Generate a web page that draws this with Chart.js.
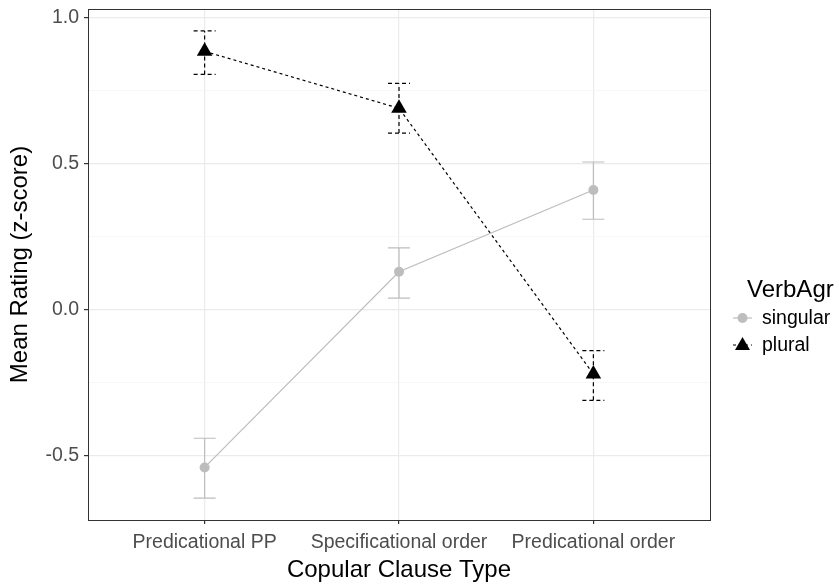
<!DOCTYPE html>
<html>
<head>
<meta charset="utf-8">
<script src="https://cdn.jsdelivr.net/npm/chart.js@4"></script>
<style>
  html, body { margin: 0; padding: 0; background: #fff; }
  #wrap { width: 839px; height: 586px; position: relative; }
</style>
</head>
<body>
<div id="wrap"><canvas id="chart"></canvas></div>
<script>
// categories on the x axis
const categories = ['Predicational PP', 'Specificational order', 'Predicational order'];

// mean ratings
const singularMeans = [-0.54, 0.13, 0.41];
const pluralMeans = [0.885, 0.69, -0.22];

// error bar limits
const singularLow = [-0.645, 0.04, 0.31];
const singularHigh = [-0.44, 0.212, 0.506];
const pluralLow = [0.806, 0.605, -0.31];
const pluralHigh = [0.955, 0.775, -0.14];

const yTicks = [-0.5, -0.25, 0, 0.25, 0.5, 0.75, 1.0];
const yMajor = [-0.5, 0, 0.5, 1.0];

const FONT = '"Liberation Sans", Arial, sans-serif';

function toPoints(vals) {
    return vals.map((v, i) => ({ x: i + 1, y: v }));
}

const errorBars = {
    id: 'errorBars',
    afterDatasetsDraw(chart) {
        const ctx = chart.ctx;
        const xs = chart.scales.x, ys = chart.scales.y;
        const sets = [
            { low: singularLow, high: singularHigh, color: '#bdbdbd', dash: [] },
            { low: pluralLow, high: pluralHigh, color: '#000', dash: [4, 3] }
        ];
        ctx.save();
        sets.forEach(s => {
            ctx.strokeStyle = s.color;
            ctx.lineWidth = 1.2;
            ctx.setLineDash(s.dash);
            s.low.forEach((lo, i) => {
                const px = xs.getPixelForValue(i + 1);
                const y1 = ys.getPixelForValue(lo);
                const y2 = ys.getPixelForValue(s.high[i]);
                ctx.beginPath();
                ctx.moveTo(px, y1); ctx.lineTo(px, y2);
                ctx.moveTo(px - 11, y1); ctx.lineTo(px + 11, y1);
                ctx.moveTo(px - 11, y2); ctx.lineTo(px + 11, y2);
                ctx.stroke();
            });
        });
        ctx.restore();
    }
};

const frame = {
    id: 'frame',
    afterDraw(chart) {
        const { ctx, chartArea: a } = chart;
        ctx.save();
        ctx.strokeStyle = '#333333';
        ctx.lineWidth = 1;
        ctx.strokeRect(a.left + 0.5, a.top + 0.5, a.right - a.left, a.bottom - a.top);

        // legend
        const lx = 733;
        ctx.fillStyle = '#000';
        ctx.font = '24px ' + FONT;
        ctx.textBaseline = 'middle';
        ctx.fillText('VerbAgr', 747, 290);
        ctx.font = '19.5px ' + FONT;
        // singular key
        ctx.strokeStyle = '#bdbdbd';
        ctx.lineWidth = 1.2;
        ctx.beginPath(); ctx.moveTo(lx, 318); ctx.lineTo(lx + 19, 318); ctx.stroke();
        ctx.fillStyle = '#bdbdbd';
        ctx.beginPath(); ctx.arc(lx + 9.5, 318, 5, 0, Math.PI * 2); ctx.fill();
        ctx.fillStyle = '#000';
        ctx.fillText('singular', 762, 319);
        // plural key
        ctx.strokeStyle = '#000';
        ctx.setLineDash([3, 3]);
        ctx.beginPath(); ctx.moveTo(lx, 345); ctx.lineTo(lx + 19, 345); ctx.stroke();
        ctx.setLineDash([]);
        ctx.beginPath();
        ctx.moveTo(lx + 9.5, 337); ctx.lineTo(lx + 17, 350); ctx.lineTo(lx + 2, 350);
        ctx.closePath(); ctx.fill();
        ctx.fillText('plural', 762, 346);
        ctx.restore();
    }
};

new Chart(document.getElementById('chart'), {
    type: 'line',
    data: {
        datasets: [
            {
                label: 'singular',
                data: toPoints(singularMeans),
                borderColor: '#bdbdbd',
                backgroundColor: '#bdbdbd',
                borderWidth: 1.2,
                pointStyle: 'circle',
                pointRadius: 5,
                pointHoverRadius: 5,
                pointBorderWidth: 0
            },
            {
                label: 'plural',
                data: toPoints(pluralMeans),
                borderColor: '#000',
                backgroundColor: '#000',
                borderWidth: 1.2,
                borderDash: [3, 3],
                pointStyle: 'triangle',
                pointRadius: 9,
                pointHoverRadius: 9,
                pointBorderWidth: 0
            }
        ]
    },
    options: {
        responsive: true,
        maintainAspectRatio: false,
        animation: false,
        events: [],
        layout: { padding: { left: 0, right: 129, top: 8, bottom: 0 } },
        plugins: {
            legend: { display: false },
            tooltip: { enabled: false }
        },
        scales: {
            x: {
                type: 'linear',
                min: 0.4,
                max: 3.6,
                afterBuildTicks: (scale) => { scale.ticks = [1, 2, 3].map(v => ({ value: v })); },
                afterFit: (scale) => {
                    scale.height = 66;
                    scale.paddingLeft = 0;
                    scale.paddingRight = 0;
                },
                ticks: {
                    callback: (v) => categories[v - 1] || '',
                    color: '#4d4d4d',
                    font: { size: 19.5, family: FONT },
                    maxRotation: 0,
                    padding: 7
                },
                grid: { color: '#ebebeb', tickColor: '#333333', tickLength: 4, lineWidth: 1.2 },
                border: { display: false },
                title: {
                    display: true,
                    text: 'Copular Clause Type',
                    color: '#000',
                    font: { size: 24, family: FONT },
                    padding: { top: 0, bottom: 1 }
                }
            },
            y: {
                min: -0.72,
                max: 1.03,
                afterBuildTicks: (scale) => { scale.ticks = yTicks.map(v => ({ value: v })); },
                afterFit: (scale) => {
                    scale.width = 88;
                    scale.paddingTop = 0;
                    scale.paddingBottom = 0;
                },
                ticks: {
                    callback: (v) => yMajor.includes(v) ? v.toFixed(1) : '',
                    color: '#4d4d4d',
                    font: { size: 19.5, family: FONT },
                    padding: 5
                },
                grid: {
                    color: (c) => yMajor.includes(c.tick.value) ? '#ebebeb' : '#f5f5f5',
                    tickColor: (c) => yMajor.includes(c.tick.value) ? '#333333' : 'rgba(0,0,0,0)',
                    lineWidth: (c) => yMajor.includes(c.tick.value) ? 1.2 : 0.8,
                    tickLength: 4
                },
                border: { display: false },
                title: {
                    display: true,
                    text: 'Mean Rating (z-score)',
                    color: '#000',
                    font: { size: 24, family: FONT },
                    padding: { top: 6, bottom: 0 }
                }
            }
        }
    },
    plugins: [errorBars, frame]
});
</script>
</body>
</html>
